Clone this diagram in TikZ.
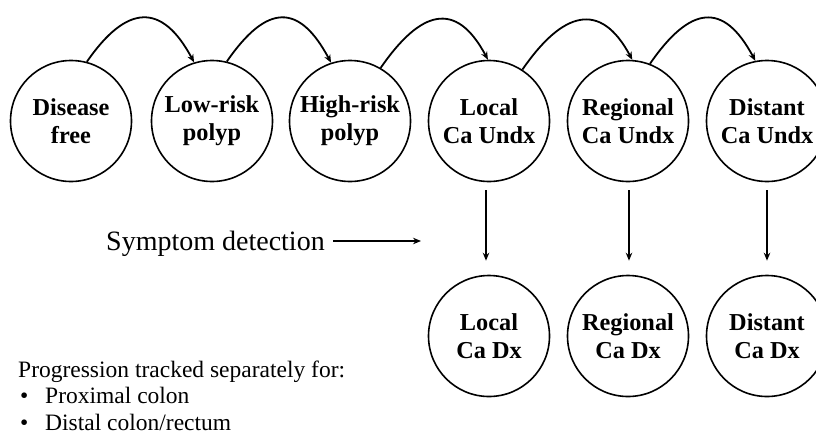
\documentclass[tikz,border=0pt]{standalone}
\usepackage{fontspec}
\setmainfont{Liberation Serif}
\usetikzlibrary{arrows.meta}
\begin{document}
\begin{tikzpicture}[x=1pt,y=1pt,
  state/.style={circle,draw,line width=1.6pt,minimum size=121pt,inner sep=0pt,align=center,
    font=\bfseries\fontsize{24.3}{28}\selectfont},
  arr/.style={line width=1.8pt,-{Stealth[length=8pt,width=6.5pt]}},
  plain/.style={inner sep=0pt,font=\fontsize{23.5}{27}\selectfont}]
\useasboundingbox (0,0) rectangle (816,-437);
\clip (0,0) rectangle (816,-437);
\node[state] (df) at (71,-121) {Disease\\free};
\node[state] (lr) at (212,-121) {Low-risk\\polyp};
\node[state] (hr) at (350,-121) {High-risk\\polyp};
\node[state] (lu) at (489,-121) {Local\\Ca Undx};
\node[state] (ru) at (628,-121) {Regional\\Ca Undx};
\node[state] (du) at (767,-121) {Distant\\Ca Undx};
\node[state] (ld) at (489,-336) {Local\\Ca Dx};
\node[state] (rd) at (628,-336) {Regional\\Ca Dx};
\node[state] (dd) at (767,-336) {Distant\\Ca Dx};
\draw[arr] (df.75) .. controls +(40,58) and +(-32,60) .. (lr.107);
\draw[arr] (lr.76) .. controls +(40,58) and +(-32,60) .. (hr.108);
\draw[arr] (hr.60) .. controls +(40,58) and +(-32,60) .. (lu.91);
\draw[arr] (lu.57) .. controls +(40,58) and +(-32,60) .. (ru.86);
\draw[arr] (ru.69) .. controls +(40,58) and +(-32,60) .. (du.101);
\draw[arr,shorten <=8pt,shorten >=14pt] ([xshift=-3pt]lu.south) -- ([xshift=-3pt]ld.north);
\draw[arr,shorten <=8pt,shorten >=14pt] ([xshift=1pt]ru.south) -- ([xshift=1pt]rd.north);
\draw[arr,shorten <=8pt,shorten >=14pt] (du.south) -- (dd.north);
\node[plain,anchor=base west,font=\fontsize{28}{32}\selectfont] (sym) at (106,-250) {Symptom detection};
\coordinate (symstart) at (333,-241);
\coordinate (symend) at (421,-241);
\draw[arr] (symstart) -- (symend);
\node[plain,anchor=base west] (prog) at (18,-377) {Progression tracked separately for:};
\node[plain,anchor=base west] (b1) at (20,-403) {\textbullet};
\node[plain,anchor=base west] (t1) at (45,-403) {Proximal colon};
\node[plain,anchor=base west] (b2) at (20,-430) {\textbullet};
\node[plain,anchor=base west] (t2) at (45,-430) {Distal colon/rectum};
\end{tikzpicture}
\end{document}
